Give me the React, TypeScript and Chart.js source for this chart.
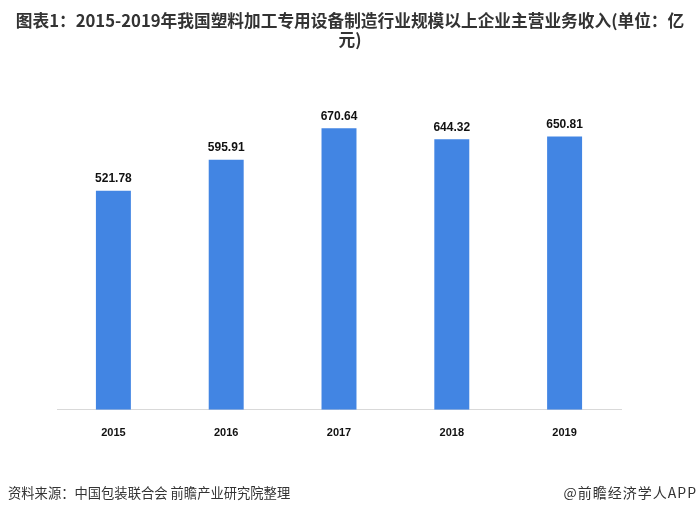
import React, { useEffect, useRef } from "react";
import { Chart, registerables } from "chart.js";

Chart.register(...registerables);

const categories = ["2015", "2016", "2017", "2018", "2019"];
const revenue = [521.78, 595.91, 670.64, 644.32, 650.81];
const titleLines = [
  "图表1：2015-2019年我国塑料加工专用设备制造行业规模以上企业主营业务收入(单位：亿",
  "元)",
];
const sourceText = "资料来源：中国包装联合会 前瞻产业研究院整理";
const brandText = "@前瞻经济学人APP";

const valueLabels = {
  id: "valueLabels",
  afterDatasetsDraw(chart: any) {
    const ctx = chart.ctx;
    const meta = chart.getDatasetMeta(0);
    ctx.save();
    ctx.font = "bold 12px 'Liberation Sans', Arial, sans-serif";
    ctx.fillStyle = "#111111";
    ctx.textAlign = "center";
    ctx.textBaseline = "bottom";
    meta.data.forEach((bar: any, i: number) => {
      ctx.fillText(revenue[i].toFixed(2), bar.x, bar.y - 6);
    });
    ctx.restore();
  },
};

export default function App() {
  const ref = useRef<HTMLCanvasElement | null>(null);
  useEffect(() => {
    document.body.style.margin = "0";
    const chart = new Chart(ref.current!, {
      type: "bar",
      data: {
        labels: categories,
        datasets: [
          {
            data: revenue,
            backgroundColor: "#4285e3",
            borderWidth: 0,
            categoryPercentage: 1,
            barPercentage: 0.31,
          },
        ],
      },
      options: {
        animation: false,
        responsive: false,
        layout: { padding: { top: 74, bottom: 62, left: 57, right: 79 } },
        plugins: {
          legend: { display: false },
          tooltip: { enabled: false },
          title: { display: false },
        },
        scales: {
          x: {
            grid: { display: false },
            border: { display: true, color: "#d9d9d9", width: 1 },
            ticks: {
              padding: 9,
              color: "#111111",
              font: { family: "'Liberation Sans', Arial, sans-serif", size: 11, weight: "bold" },
            },
          },
          y: {
            display: false,
            min: 0,
            max: 800,
          },
        },
      },
      plugins: [valueLabels],
    });
    return () => chart.destroy();
  }, []);

  return (
    <div style={{ position: "relative", width: 700, height: 511, background: "#fff", overflow: "hidden" }}>
      <canvas ref={ref} width={700} height={511} style={{ position: "absolute", left: 0, top: 0 }} />
      <div
        style={{
          position: "absolute",
          left: 0,
          top: 11,
          width: 700,
          textAlign: "center",
          fontFamily: "'Noto Sans CJK SC', sans-serif",
          fontWeight: "bold",
          fontSize: 16.7,
          lineHeight: "19px",
          color: "#333333",
          whiteSpace: "nowrap",
        }}
      >
        {titleLines.map((t, i) => (
          <div key={i}>{t}</div>
        ))}
      </div>
      <div
        style={{
          position: "absolute",
          left: 8,
          top: 483,
          fontFamily: "'Noto Sans CJK SC', sans-serif",
          fontSize: 13.3,
          color: "#333333",
          whiteSpace: "nowrap",
        }}
      >
        {sourceText}
      </div>
      <div
        style={{
          position: "absolute",
          right: 3,
          top: 482,
          fontFamily: "'Noto Sans CJK SC', sans-serif",
          fontSize: 14,
          letterSpacing: "1px",
          color: "#333333",
          whiteSpace: "nowrap",
        }}
      >
        {brandText}
      </div>
    </div>
  );
}
